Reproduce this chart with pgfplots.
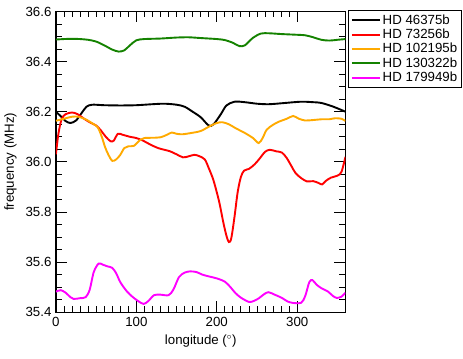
\documentclass[border=0pt]{standalone}
\usepackage{pgfplots}
\pgfplotsset{compat=1.18}
\usepackage{fontspec}
\setmainfont{Liberation Sans}
\definecolor{cOrange}{RGB}{255,170,0}
\definecolor{cGreen}{RGB}{20,130,0}
\definecolor{cMag}{RGB}{255,0,255}
\begin{document}
\fontsize{13}{15}\selectfont
\begin{tikzpicture}
\path (-55.3pt,-46.3pt) rectangle (407.7pt,312.7pt);
\begin{axis}[
  at={(0,0)}, anchor=south west,
  scale only axis,
  width=290pt, height=301.2pt,
  xmin=0, xmax=360, ymin=35.4, ymax=36.6,
  xtick={0,100,200,300},
  minor x tick num=9,
  ytick={35.4,35.6,35.8,36.0,36.2,36.4,36.6},
  minor y tick num=3,
  tick align=inside,
  major tick length=11pt,
  minor tick length=6pt,
  tick style={black, line width=0.9pt},
  axis line style={line width=1.3pt},
  /pgf/number format/assume math mode=true,
  yticklabel style={/pgf/number format/.cd, fixed, fixed zerofill, precision=1},
  xticklabel style={/pgf/number format/.cd, fixed, precision=0},
  tick label style={font=\fontsize{13.3}{15}\selectfont},
  label style={font=\fontsize{13.3}{15}\selectfont},
  xlabel={longitude ($^\circ$)},
  ylabel={frequency (MHz)},
  legend style={at={(1.01,1.005)}, anchor=north west, draw=black, line width=1pt,
    font=\fontsize{13.3}{15}\selectfont, row sep=-1.2pt, inner sep=2pt},
  legend cell align=left,
  legend image code/.code={\draw[#1, line width=1.9pt] (0pt,0pt) -- (28pt,0pt);},
  every axis plot/.append style={line width=1.9pt, smooth, no markers},
]
\addplot[black] coordinates {
(0,36.200)(5,36.185)(12,36.163)(18,36.155)(25,36.165)(32,36.195)(38,36.220)(45,36.228)
(60,36.226)(80,36.225)(100,36.226)(120,36.230)(135,36.232)(150,36.228)(160,36.220)
(170,36.200)(180,36.178)(190,36.145)(196,36.150)(205,36.190)(212,36.225)(222,36.240)
(235,36.238)(250,36.232)(265,36.230)(285,36.235)(305,36.240)(320,36.238)(330,36.235)
(345,36.220)(360,36.200)};
\addlegendentry{HD 46375b}
\addplot[red] coordinates {
(0,36.030)(3,36.110)(7,36.170)(12,36.190)(20,36.197)(27,36.190)(35,36.172)(42,36.158)
(50,36.145)(56,36.125)(62,36.100)(68,36.082)(72,36.085)(77,36.112)(83,36.108)(92,36.100)
(100,36.095)(108,36.085)(118,36.068)(127,36.055)(135,36.048)(142,36.042)(150,36.030)
(158,36.018)(165,36.022)(172,36.028)(178,36.023)(185,36.010)(190,35.975)(196,35.925)
(203,35.840)(208,35.760)(212,35.705)(215,35.680)(218,35.695)(222,35.780)(226,35.880)
(230,35.940)(234,35.965)(240,35.972)(247,35.990)(253,36.012)(260,36.040)(266,36.048)
(274,36.042)(281,36.037)(287,36.015)(293,35.982)(298,35.955)(305,35.935)(312,35.922)
(320,35.923)(327,35.915)(331,35.910)(336,35.925)(342,35.937)(350,35.945)(355,35.960)
(360,36.020)};
\addlegendentry{HD 73256b}
\addplot[cOrange] coordinates {
(0,36.164)(10,36.172)(20,36.180)(28,36.180)(38,36.168)(46,36.152)(52,36.138)(57,36.100)
(61,36.060)(65,36.030)(70,36.004)(75,36.010)(80,36.028)(85,36.055)(90,36.062)(97,36.064)
(104,36.085)(110,36.095)(120,36.096)(130,36.098)(138,36.108)(144,36.117)(150,36.112)
(157,36.110)(168,36.115)(180,36.123)(190,36.140)(200,36.155)(207,36.158)(215,36.150)
(223,36.135)(235,36.115)(245,36.095)(252,36.075)(257,36.095)(262,36.128)(270,36.148)
(277,36.160)(287,36.172)(295,36.183)(302,36.172)(310,36.165)(320,36.167)(331,36.170)
(340,36.170)(347,36.174)(355,36.172)(360,36.163)};
\addlegendentry{HD 102195b}
\addplot[cGreen] coordinates {
(0,36.488)(10,36.490)(20,36.491)(30,36.490)(40,36.487)(50,36.480)(60,36.465)(70,36.448)
(78,36.440)(85,36.445)(92,36.465)(100,36.485)(110,36.490)(130,36.492)(150,36.496)
(165,36.497)(180,36.494)(200,36.490)(210,36.486)(220,36.475)(228,36.462)(235,36.465)
(245,36.495)(255,36.512)(265,36.513)(280,36.510)(300,36.507)(310,36.505)(320,36.497)
(330,36.487)(340,36.484)(350,36.487)(360,36.490)};
\addlegendentry{HD 130322b}
\addplot[cMag] coordinates {
(0,35.482)(6,35.488)(12,35.478)(18,35.460)(22,35.453)(30,35.456)(37,35.460)(42,35.490)
(47,35.560)(53,35.594)(58,35.590)(64,35.583)(70,35.577)(75,35.555)(80,35.520)(88,35.484)
(95,35.462)(102,35.445)(109,35.433)(115,35.445)(122,35.468)(130,35.470)(140,35.468)
(146,35.490)(153,35.540)(160,35.558)(167,35.563)(175,35.560)(182,35.550)(190,35.543)
(200,35.535)(210,35.522)(217,35.500)(223,35.477)(230,35.458)(240,35.441)(246,35.445)
(252,35.455)(258,35.470)(264,35.480)(272,35.470)(281,35.457)(288,35.443)(295,35.437)
(305,35.438)(310,35.465)(315,35.520)(319,35.528)(324,35.510)(330,35.496)(338,35.483)
(344,35.466)(349,35.457)(355,35.462)(360,35.478)};
\addlegendentry{HD 179949b}
\end{axis}
\end{tikzpicture}
\end{document}
